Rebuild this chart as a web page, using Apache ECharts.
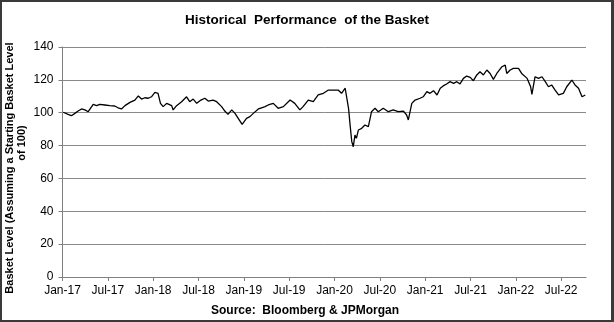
<!DOCTYPE html>
<html>
<head>
<meta charset="utf-8">
<script src="https://cdn.jsdelivr.net/npm/echarts@6/dist/echarts.min.js"></script>
<style>
html,body{margin:0;padding:0;background:#fff;}
#wrap{position:relative;width:614px;height:322px;}
#chart{position:absolute;left:0;top:0;width:614px;height:322px;}
#frame{position:absolute;left:0;top:0;width:614px;height:322px;box-sizing:border-box;border-top:2px solid #3a3a3a;border-left:2px solid #3a3a3a;border-right:3px solid #3a3a3a;border-bottom:2px solid #3a3a3a;pointer-events:none;}
</style>
</head>
<body>
<div id="wrap"><div id="chart"></div><div id="frame"></div></div>
<script>
const titleText = 'Historical  Performance  of the Basket';
const sourceText = 'Source:  Bloomberg & JPMorgan';
const yNameLine1 = 'Basket Level (Assuming a Starting Basket Level';
const yNameLine2 = 'of 100)';
const tickLabels = ['Jan-17','Jul-17','Jan-18','Jul-18','Jan-19','Jul-19','Jan-20','Jul-20','Jan-21','Jul-21','Jan-22','Jul-22'];
const yTicks = [0,20,40,60,80,100,120,140];
const axisStart = '2017-01-01';
const axisEnd = '2022-10-10';

const dates = [
'2017-01-04','2017-01-10','2017-01-24','2017-02-06','2017-02-19','2017-03-03','2017-03-17','2017-03-31','2017-04-13','2017-04-22',
'2017-05-03','2017-05-17','2017-05-30','2017-06-19','2017-07-09','2017-07-29','2017-08-12','2017-08-26','2017-09-09','2017-09-29',
'2017-10-19','2017-11-02','2017-11-15','2017-11-28','2017-12-12','2017-12-25','2018-01-08','2018-01-21','2018-01-31','2018-02-10',
'2018-02-23','2018-03-01','2018-03-15','2018-03-21','2018-04-04','2018-04-24','2018-05-14','2018-05-27','2018-06-10','2018-06-24',
'2018-07-11','2018-07-27','2018-08-10','2018-08-30','2018-09-13','2018-09-20','2018-10-03','2018-10-16','2018-10-29','2018-11-13',
'2018-11-26','2018-12-09','2018-12-25','2019-01-12','2019-01-26','2019-02-08','2019-02-27','2019-03-12','2019-03-26','2019-04-08',
'2019-04-28','2019-05-18','2019-06-08','2019-07-05','2019-07-24','2019-08-14','2019-08-27','2019-09-17','2019-10-07','2019-10-27',
'2019-11-17','2019-12-07','2019-12-20','2020-01-16','2020-01-30','2020-02-13','2020-02-19','2020-02-26','2020-03-03','2020-03-10',
'2020-03-16','2020-03-23','2020-03-29','2020-04-06','2020-04-19','2020-05-02','2020-05-16','2020-05-29','2020-06-12','2020-06-25',
'2020-07-15','2020-08-05','2020-08-25','2020-09-14','2020-10-05','2020-10-18','2020-10-25','2020-11-08','2020-11-21','2020-12-11',
'2020-12-24','2021-01-08','2021-01-21','2021-02-04','2021-02-17','2021-03-01','2021-03-13','2021-03-27','2021-04-10','2021-04-24',
'2021-05-07','2021-05-20','2021-06-03','2021-06-16','2021-06-30','2021-07-13','2021-07-27','2021-08-09','2021-08-23','2021-09-06',
'2021-09-19','2021-10-02','2021-10-16','2021-11-06','2021-11-19','2021-11-25','2021-12-09','2021-12-22','2021-12-29','2022-01-12',
'2022-01-25','2022-02-15','2022-02-28','2022-03-05','2022-03-18','2022-04-01','2022-04-15','2022-04-28','2022-05-11','2022-05-24',
'2022-06-07','2022-06-21','2022-07-10','2022-07-24','2022-08-14','2022-08-27','2022-09-10','2022-09-24','2022-10-07'
];
const levels = [
100.3,99.6,99.0,98.2,99.6,101.0,102.3,101.7,100.6,102.7,
105.1,104.3,105.1,104.7,104.3,104.1,103.0,102.3,104.3,106.3,
107.7,110.2,108.3,109.1,108.8,109.7,112.4,111.8,105.7,103.7,
105.7,105.7,104.3,101.7,104.3,106.7,109.7,106.7,108.3,105.7,
107.7,108.8,107.1,107.7,106.7,107.7,103.7,101.0,99.0,101.7,
99.6,96.6,92.9,96.6,97.6,99.6,102.3,103.0,103.7,104.7,
105.7,102.7,103.7,107.7,105.7,101.7,103.7,107.7,106.7,110.8,
111.8,113.8,113.8,113.8,111.8,114.9,113.8,102.7,92.5,82.4,
79.3,86.4,84.4,89.5,90.5,92.5,91.5,100.6,102.7,100.6,
102.7,100.6,101.7,100.6,101.0,98.6,95.6,105.7,107.7,108.8,
109.7,112.8,111.8,113.4,110.8,114.9,116.3,117.5,118.9,117.9,
118.9,117.5,120.9,122.3,121.5,119.5,123.0,124.9,123.0,126.0,
123.9,120.3,123.9,128.0,129.0,123.9,126.0,127.0,128.0,127.0,
123.9,120.9,115.8,111.2,121.9,120.9,121.9,118.9,115.8,116.9,
113.8,110.8,111.8,115.8,119.9,116.9,114.9,109.7,110.8
];

function monthsSinceStart(s){
  const [y,m,d] = s.split('-').map(Number);
  const dim = new Date(Date.UTC(y, m, 0)).getUTCDate();
  return (y-2017)*12 + (m-1) + (d-1)/dim;
}
const seriesData = dates.map((d,i)=>[monthsSinceStart(d), levels[i]]);
const tickVals = tickLabels.map((_,i)=>i*6);

const chart = echarts.init(document.getElementById('chart'), null, {renderer:'canvas'});
const fontFam = '"Liberation Sans", Arial, sans-serif';
chart.setOption({
  animation:false,
  backgroundColor:'#ffffff',
  grid:{left:62.5, right:28, top:47, bottom:45},
  xAxis:{
    type:'value', min:monthsSinceStart(axisStart), max:monthsSinceStart(axisEnd), interval:6,
    axisLine:{lineStyle:{color:'#808080', width:1}},
    axisTick:{show:true, length:4, lineStyle:{color:'#808080'}, customValues:tickVals},
    axisLabel:{customValues:tickVals, formatter:(v)=>tickLabels[Math.round(v/6)]||'', color:'#000', fontSize:12, fontFamily:fontFam, margin:8},
    splitLine:{show:false}
  },
  yAxis:{
    type:'value', min:yTicks[0], max:yTicks[yTicks.length-1], interval:20,
    axisLine:{show:true, lineStyle:{color:'#808080', width:1}},
    axisTick:{show:true, length:4, lineStyle:{color:'#808080'}},
    axisLabel:{color:'#000', fontSize:12, fontFamily:fontFam, margin:9},
    splitLine:{show:true, lineStyle:{color:'#8a8a8a', width:1}}
  },
  series:[{
    type:'line', data:seriesData, showSymbol:false, symbol:'none',
    lineStyle:{color:'#000', width:1.3}, z:5
  }],
  graphic:[
    {type:'text', x:307, y:20, style:{text:titleText, font:'bold 13.5px '+fontFam, fill:'#000', align:'center', verticalAlign:'middle'}},
    {type:'text', x:305, y:311, style:{text:sourceText, font:'bold 12px '+fontFam, fill:'#000', align:'center', verticalAlign:'middle'}},
    {type:'text', x:10, y:168, rotation:Math.PI/2, style:{text:yNameLine1, font:'bold 11px '+fontFam, fill:'#000', align:'center', verticalAlign:'middle'}},
    {type:'text', x:22, y:143, rotation:Math.PI/2, style:{text:yNameLine2, font:'bold 11px '+fontFam, fill:'#000', align:'center', verticalAlign:'middle'}}
  ]
});
</script>
</body>
</html>
